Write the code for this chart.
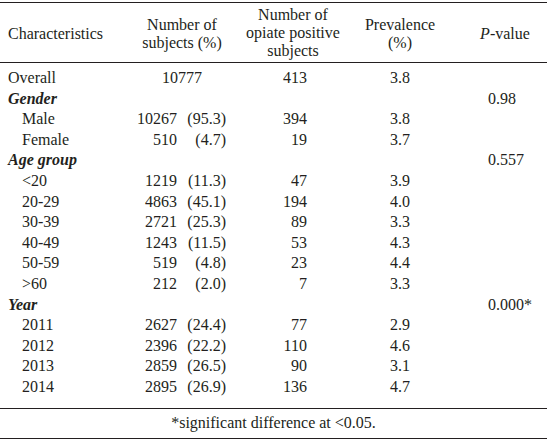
<!DOCTYPE html>
<html><head><meta charset="utf-8">
<script src="https://cdn.jsdelivr.net/npm/chart.js@4"></script>
<style>
body{margin:0;background:#fff;font-family:"Liberation Serif","DejaVu Serif",serif;font-size:16px;color:#231f20;}
#t{position:relative;width:547px;height:440px;}
.c{position:absolute;white-space:nowrap;line-height:18px;}
.ln{position:absolute;left:0;width:547px;height:1px;background:#231f20;}
</style></head><body><div id="t"></div>
<script>
const labels=["Overall","Gender","Male","Female","Age group","<20","20-29","30-39","40-49","50-59",">60","Year","2011","2012","2013","2014"];
const isGroup=[false,true,false,false,true,false,false,false,false,false,false,true,false,false,false,false];
const subjects=["10777","","10267","510","","1219","4863","2721","1243","519","212","","2627","2396","2859","2895"];
const subjectPct=["","","(95.3)","(4.7)","","(11.3)","(45.1)","(25.3)","(11.5)","(4.8)","(2.0)","","(24.4)","(22.2)","(26.5)","(26.9)"];
const opiate=["413","","394","19","","47","194","89","53","23","7","","77","110","90","136"];
const prevalence=["3.8","","3.8","3.7","","3.9","4.0","3.3","4.3","4.4","3.3","","2.9","4.6","3.1","4.7"];
const pvalues=["","0.98","","","0.557","","","","","","","0.000*","","","",""];
const t=document.getElementById('t');
function add(html,style){const d=document.createElement('div');d.className='c';d.innerHTML=html;Object.assign(d.style,style);t.appendChild(d);return d;}
function line(y){const d=document.createElement('div');d.className='ln';d.style.top=y+'px';t.appendChild(d);}
line(2);line(62);line(408);line(438);
add("Characteristics",{left:'8px',top:'25px'});
add("Number of<br>subjects (%)",{left:'132px',width:'100px',textAlign:'center',top:'16px'});
add("Number of<br>opiate positive<br>subjects",{left:'243px',width:'100px',textAlign:'center',top:'6px'});
add("Prevalence<br>(%)",{left:'350px',width:'100px',textAlign:'center',top:'16px'});
add("<i>P</i>-value",{left:'470px',width:'70px',textAlign:'center',top:'25px'});
labels.forEach((l,i)=>{
  const y=(69+i*20.6)+'px';
  const esc=l.replace('<','&lt;').replace('>','&gt;');
  if(isGroup[i]) add('<b><i>'+esc+'</i></b>',{left:'8px',top:y});
  else add(esc,{left:i===0?'8px':'22px',top:y});
  if(i===0) add(subjects[i],{left:'132px',width:'100px',textAlign:'center',top:y});
  else if(subjects[i]){add(subjects[i],{right:(547-177)+'px',top:y});add(subjectPct[i],{right:(547-226)+'px',top:y});}
  if(opiate[i]) add(opiate[i],{right:(547-307)+'px',top:y});
  if(prevalence[i]) add(prevalence[i],{left:'350px',width:'100px',textAlign:'center',top:y});
  if(pvalues[i]) add(pvalues[i],{left:'488px',top:y});
});
add("*significant difference at &lt;0.05.",{left:'0',width:'547px',textAlign:'center',top:'414px'});
</script></body></html>
